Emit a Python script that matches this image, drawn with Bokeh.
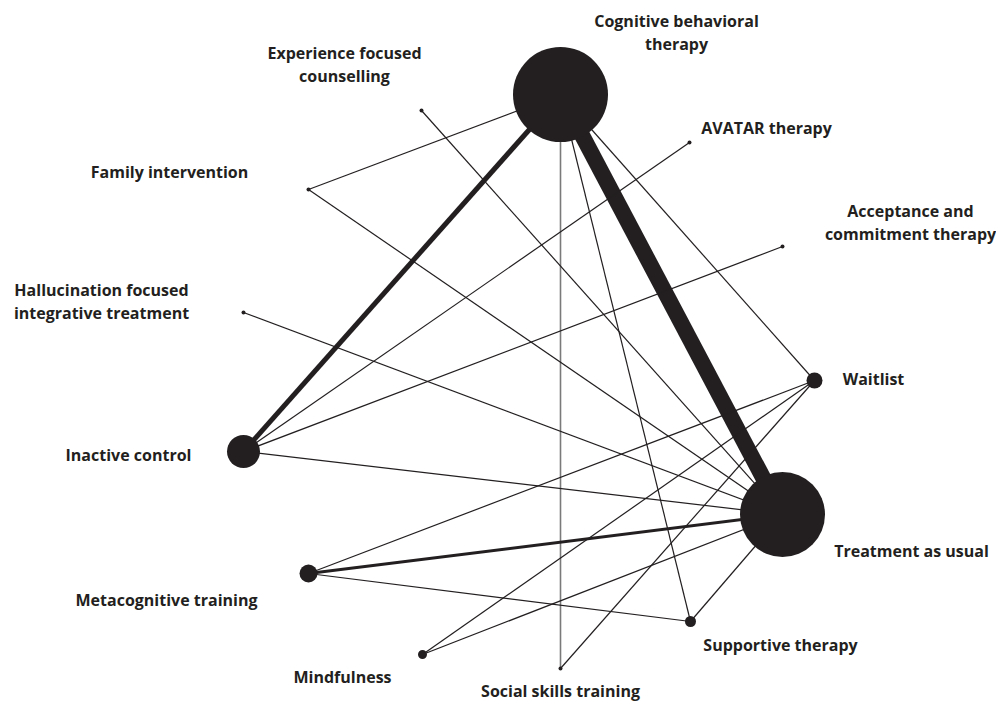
from bokeh.plotting import figure
from bokeh.models import Range1d, ColumnDataSource
from bokeh.core.properties import value
from bokeh.embed import file_html
from bokeh.resources import INLINE

# Network nodes (layout coordinates) and node size (marker diameter)
nodes = ["Cognitive behavioral therapy", "Experience focused counselling", "AVATAR therapy",
         "Family intervention", "Acceptance and commitment therapy",
         "Hallucination focused integrative treatment", "Waitlist", "Inactive control",
         "Treatment as usual", "Metacognitive training", "Supportive therapy",
         "Mindfulness", "Social skills training"]
node_x = [560, 421, 689, 308, 782, 243, 814, 243, 782, 308, 690, 422, 560]
node_y = [94, 110, 142, 189, 246, 312, 380, 451, 514, 573, 621, 654, 668]
node_size = [95, 4, 4, 4, 4, 4, 16, 33, 85, 18, 11, 9, 4]

labels = ["Cognitive behavioral\ntherapy", "Experience focused\ncounselling", "AVATAR therapy",
          "Family intervention", "Acceptance and\ncommitment therapy",
          "Hallucination focused\nintegrative treatment", "Waitlist", "Inactive control",
          "Treatment as usual", "Metacognitive training", "Supportive therapy",
          "Mindfulness", "Social skills training"]

# Edges: (from, to, weight)
edge_from = [0, 0, 0, 0, 0, 0, 1, 3, 2, 4, 5, 7, 6, 6, 6, 9, 9, 8, 8]
edge_to   = [7, 8, 3, 6, 12, 10, 8, 8, 7, 7, 8, 8, 9, 11, 12, 8, 10, 10, 11]
edge_w    = [5, 16, 1, 1, 1.6, 1, 1, 1, 1, 1, 1, 1, 1, 1, 1, 3, 1, 1, 1]

# label layout (styling)
label_pos = {
    0: (676, 32), 1: (344, 64), 2: (766, 127), 3: (169, 171), 4: (910, 222),
    5: (101, 301), 6: (873, 378), 7: (128, 454), 8: (911, 550), 9: (166, 599),
    10: (780, 644), 11: (342, 676), 12: (560, 690),
}

INK = "#231f20"

p = figure(width=996, height=702, output_backend="svg", toolbar_location=None,
           x_range=Range1d(0, 996), y_range=Range1d(702, 0),
           min_border=0, outline_line_color=None)
p.axis.visible = False
p.grid.visible = False
p.background_fill_color = "white"
p.border_fill_color = "white"

for a, b, w in zip(edge_from, edge_to, edge_w):
    color = "#7a7a7a" if (a == 0 and b == 12) else INK
    p.line([node_x[a], node_x[b]], [node_y[a], node_y[b]], line_width=w * 1.2 if w == 1 else w,
           line_color=color)

src = ColumnDataSource(dict(x=node_x, y=node_y, s=node_size))
p.scatter("x", "y", size="s", source=src, fill_color=INK, line_color=None)

lsrc = ColumnDataSource(dict(x=[label_pos[i][0] for i in range(len(labels))],
                             y=[label_pos[i][1] for i in range(len(labels))],
                             t=labels))
p.text("x", "y", text="t", source=lsrc, text_font=value("Open Sans"),
       text_font_style="bold", text_font_size="16px", text_color=INK,
       text_align="center", text_baseline="middle", text_line_height=1.02)

open("out.html", "w").write(file_html(p, INLINE))
